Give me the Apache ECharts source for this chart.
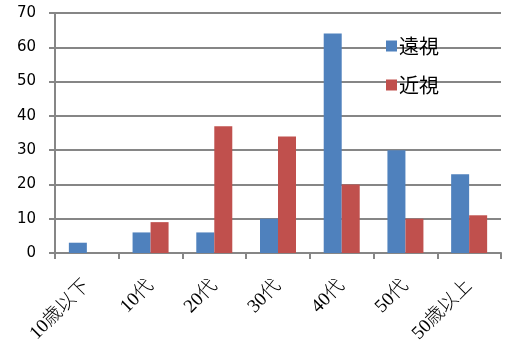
<!DOCTYPE html>
<html><head><meta charset="utf-8">
<script src="https://cdn.jsdelivr.net/npm/echarts@6/dist/echarts.min.js"></script>
<style>html,body{margin:0;padding:0;background:#fff}#c{width:508px;height:354px}</style>
</head><body><div id="c"></div>
<script>
const categories = ['10歳以下', '10代', '20代', '30代', '40代', '50代', '50歳以上'];
const farsighted = [3, 6, 6, 10, 64, 30, 23];
const nearsighted = [0, 9, 37, 34, 20, 10, 11];
const seriesNames = ['遠視', '近視'];
const yTicks = { min: 0, max: 70, interval: 10 };

const chart = echarts.init(document.getElementById('c'), null, { renderer: 'canvas' });
const axisGray = '#868686';
chart.setOption({
  animation: false,
  color: ['#4F81BD', '#C0504D'],
  grid: { left: 55, right: 7, top: 13, bottom: 101, containLabel: false },
  legend: {
    orient: 'vertical', left: 381, top: 31,
    itemWidth: 11, itemHeight: 11, itemGap: 19,
    icon: 'rect',
    textStyle: { fontSize: 20, color: '#000', fontFamily: 'Noto Sans CJK JP', padding: [0, 0, 0, -3] },
    data: seriesNames
  },
  xAxis: {
    type: 'category', data: categories,
    axisLine: { lineStyle: { color: axisGray, width: 2 } },
    axisTick: { show: true, length: 6, lineStyle: { color: axisGray, width: 2 } },
    axisLabel: { rotate: 45, margin: 30, fontSize: 19, color: '#000', fontFamily: '"Liberation Serif", "Noto Sans CJK JP"', fontWeight: 300, interval: 0 }
  },
  yAxis: {
    type: 'value', min: yTicks.min, max: yTicks.max, interval: yTicks.interval,
    axisLine: { show: true, lineStyle: { color: axisGray, width: 2 } },
    axisTick: { show: true, length: 6, lineStyle: { color: axisGray, width: 2 } },
    splitLine: { lineStyle: { color: axisGray, width: 2 } },
    axisLabel: { fontSize: 15, color: '#000', fontFamily: 'DejaVu Sans', margin: 19 }
  },
  series: [
    { name: seriesNames[0], type: 'bar', data: farsighted, barWidth: 18, barGap: '0%' },
    { name: seriesNames[1], type: 'bar', data: nearsighted, barWidth: 18, barGap: '0%' }
  ]
});
</script></body></html>
